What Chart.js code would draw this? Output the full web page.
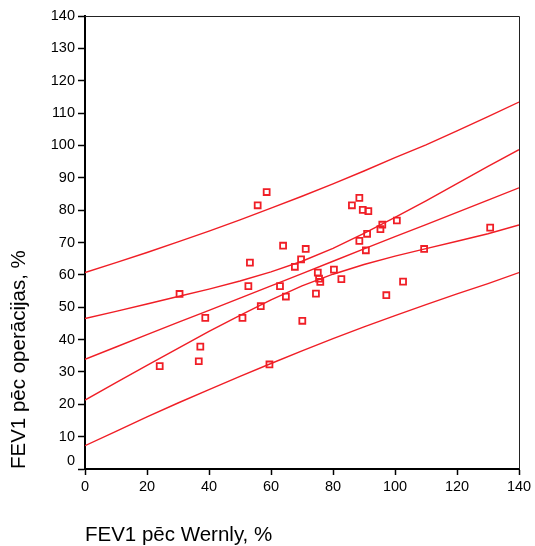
<!DOCTYPE html>
<html><head><meta charset="utf-8">
<script src="https://cdn.jsdelivr.net/npm/chart.js@4.4.0/dist/chart.umd.min.js"></script>
<style>html,body{margin:0;padding:0;background:#fff;overflow:hidden}</style>
</head><body>
<canvas id="c" width="535" height="546"></canvas>
<script>
// Axis titles
const xTitle = 'FEV1 pēc Wernly, %';
const yTitle = 'FEV1 pēc operācijas, %';
// Scatter points: FEV1 after Wernly (x) and after operation (y)
const wernly = [24.1,30.5,36.7,37.2,38.8,50.8,52.7,53.2,55.7,56.7,58.6,59.5,62.9,63.9,64.8,67.7,69.7,70.1,71.2,74.5,75.1,75.5,75.9,80.3,82.7,86.1,88.5,88.5,89.6,90.6,91.0,91.4,95.3,95.9,97.2,100.6,102.6,109.4,130.7];
const operacijas = [31.8,54.1,33.3,37.8,46.7,46.7,56.5,63.8,81.5,50.3,85.6,32.3,56.5,69.0,53.3,62.5,64.8,45.8,68.0,54.2,60.7,58.8,57.8,61.6,58.7,81.5,83.8,70.5,80.1,67.6,72.7,79.7,74.1,75.5,53.7,76.8,57.9,68.0,74.6];
// Fitted line and bands, read at these x positions
const fitX       = [0,   10,  20,  30,  40,  50,  60,  70,  80,  90,  100, 110, 120, 130, 140];
const regression = [33.9,37.7,41.5,45.3,49.0,52.8,56.6,60.4,64.2,68.0,71.8,75.5,79.3,83.1,86.9];
const confUpper  = [46.5,48.7,51.0,53.3,55.6,58.1,60.9,64.2,68.2,72.8,77.8,82.9,88.2,93.5,98.7];
const confLower  = [21.3,26.7,32.0,37.3,42.5,47.5,52.3,56.6,60.2,63.2,65.8,68.1,70.4,72.7,75.4];
const predUpper  = [60.7,63.8,66.9,70.2,73.5,77.0,80.6,84.3,88.1,92.1,96.2,100.2,104.5,108.9,113.4];
const predLower  = [7.2, 11.6,16.1,20.4,24.5,28.6,32.6,36.5,40.3,43.9,47.4,50.8,54.1,57.3,60.7];

const RED = 'rgb(240,30,38)';
const FONT = "'Liberation Sans', Arial, sans-serif";
const pts = (xs, ys) => xs.map((x, i) => ({x, y: ys[i]}));
const lineDs = ys => ({data: pts(fitX, ys), showLine: true, borderColor: RED, borderWidth: 1.4, pointRadius: 0, fill: false, tension: 0});

const boxPlugin = {
  id: 'box',
  afterDraw(chart) {
    const {ctx, chartArea: a, scales} = chart;
    ctx.save();
    ctx.strokeStyle = '#222';
    ctx.lineWidth = 1;
    ctx.beginPath();
    ctx.moveTo(a.left, a.top + 0.5); ctx.lineTo(a.right + 0.5, a.top + 0.5); ctx.lineTo(a.right + 0.5, a.bottom);
    ctx.stroke();
    // raised zero label on y axis
    ctx.fillStyle = '#000';
    ctx.font = "14.5px " + FONT;
    ctx.textAlign = 'right';
    ctx.textBaseline = 'middle';
    ctx.fillText('0', a.left - 10, scales.y.getPixelForValue(0) - 8);
    ctx.restore();
  }
};

new Chart(document.getElementById('c'), {
  type: 'scatter',
  data: {
    datasets: [
      lineDs(predUpper), lineDs(confUpper), lineDs(regression), lineDs(confLower), lineDs(predLower),
      {data: pts(wernly, operacijas), pointStyle: 'rect', pointRadius: 4.2, pointBorderWidth: 1.8,
       pointBorderColor: RED, pointBackgroundColor: 'rgba(0,0,0,0)', showLine: false}
    ]
  },
  options: {
    responsive: false, animation: false, devicePixelRatio: 1,
    layout: {padding: {top: 16, right: 16, left: 0, bottom: 0}},
    plugins: {legend: {display: false}, tooltip: {enabled: false}},
    scales: {
      x: {
        type: 'linear', min: 0, max: 140,
        ticks: {stepSize: 20, color: '#000', padding: 3, font: {family: FONT, size: 14.5}, maxRotation: 0},
        grid: {drawOnChartArea: false, drawTicks: true, tickLength: 6, tickColor: '#000', tickWidth: 1.5},
        border: {display: true, color: '#000', width: 2},
        title: {display: true, text: xTitle, align: 'start', color: '#000', font: {family: FONT, size: 20.5, lineHeight: 1}, padding: {top: 0, bottom: 0}},
        afterFit(s) { s.height = 77; }
      },
      y: {
        type: 'linear', min: 0, max: 140,
        ticks: {stepSize: 10, color: '#000', padding: 3, font: {family: FONT, size: 14.5},
          callback: v => v === 0 ? '' : String(v)},
        grid: {drawOnChartArea: false, drawTicks: true, tickLength: 7, tickColor: '#000', tickWidth: 1.5},
        border: {display: true, color: '#000', width: 2},
        title: {display: true, text: yTitle, align: 'start', color: '#000', font: {family: FONT, size: 20.5, lineHeight: 1}, padding: {top: 9, bottom: 0}},
        afterFit(s) { s.width = 85; }
      }
    }
  },
  plugins: [boxPlugin]
});
</script>
</body></html>
